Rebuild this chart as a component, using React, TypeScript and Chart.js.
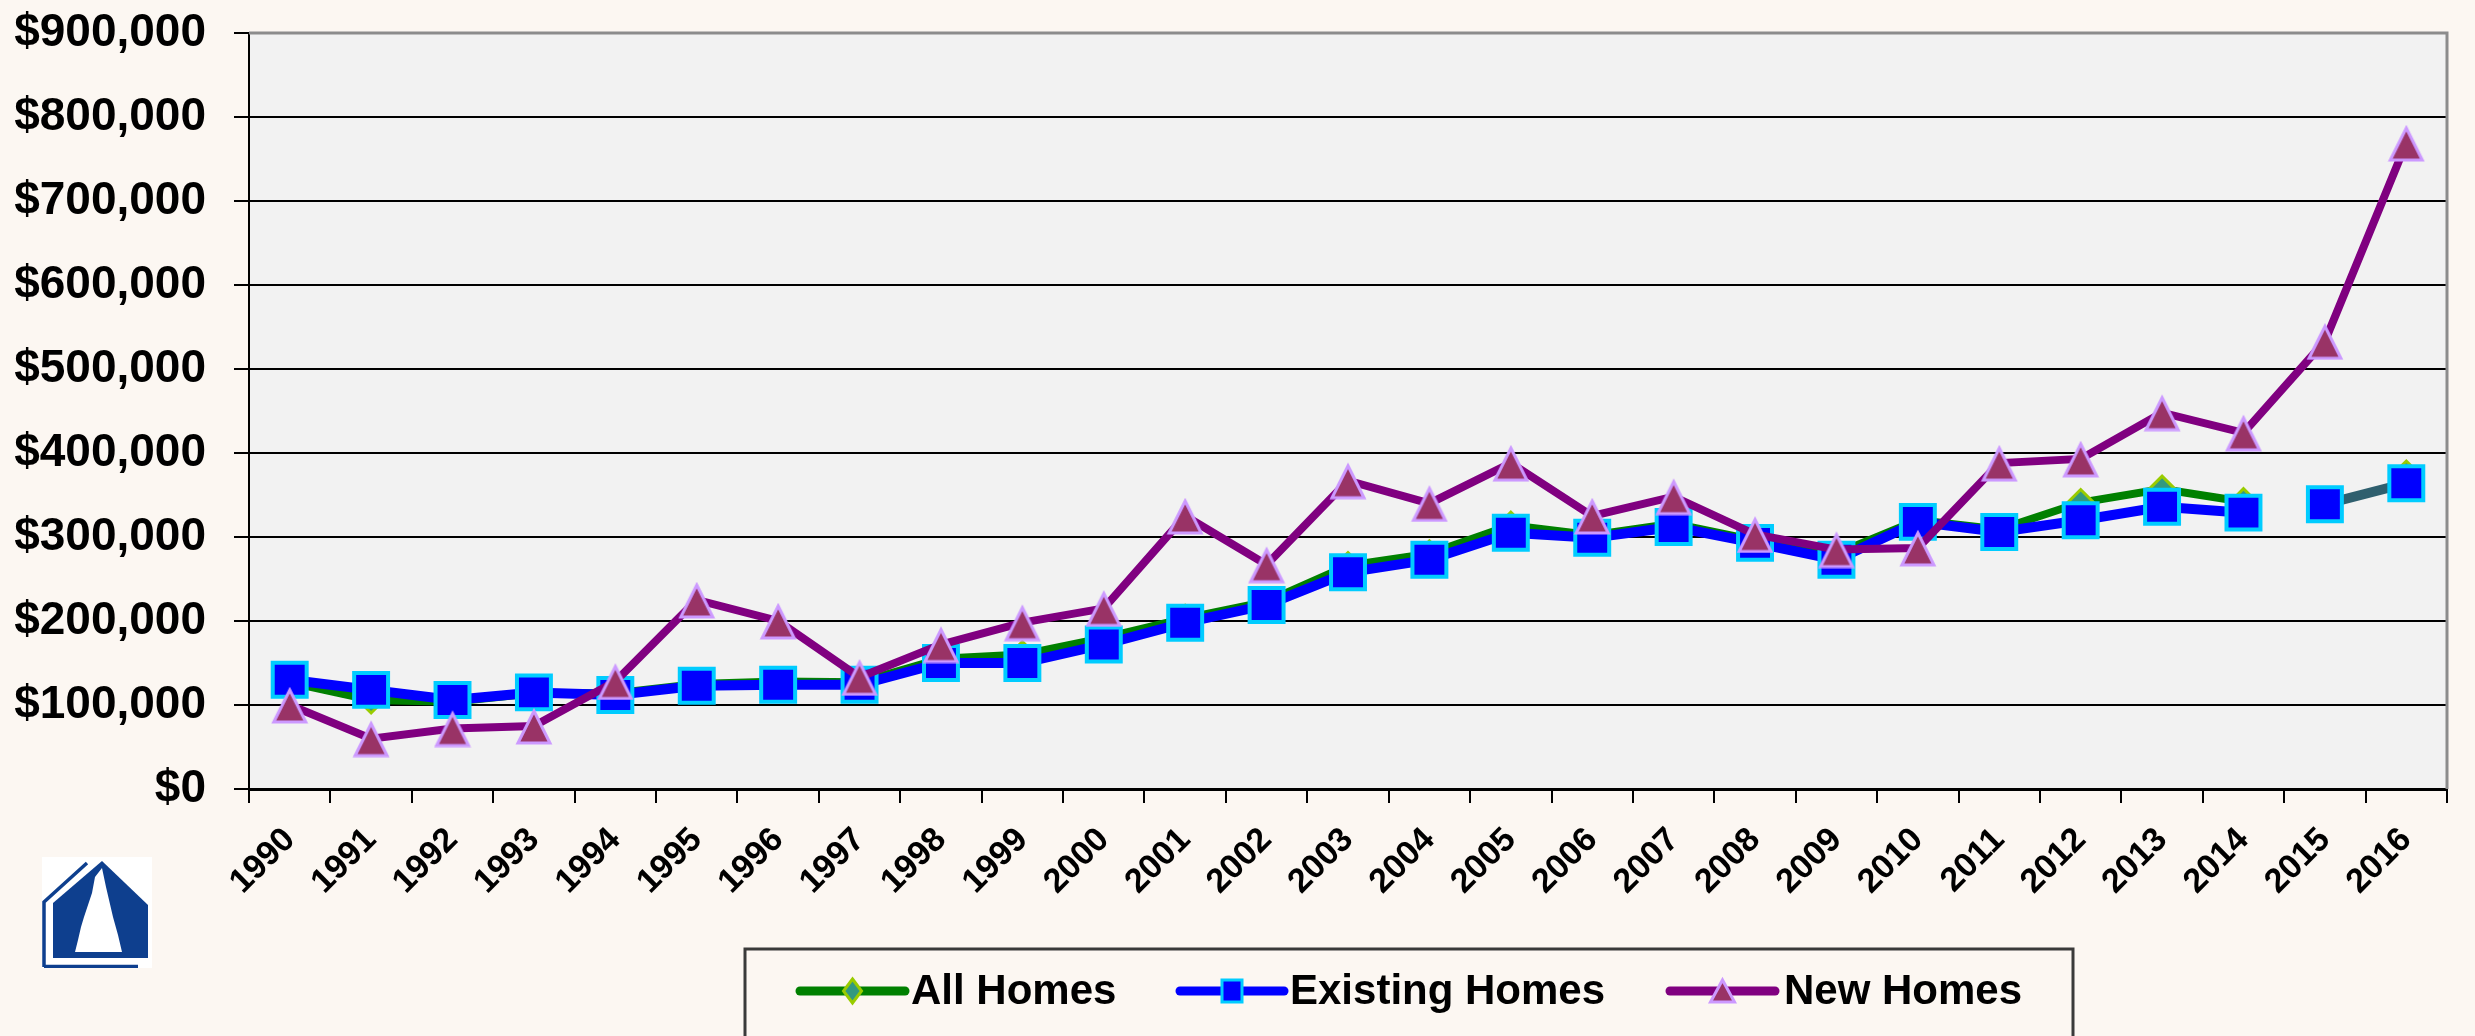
import React, { useEffect, useRef } from 'react';
import { Chart, registerables } from 'chart.js';

Chart.register(...registerables);

// ---------------- data ----------------
const years = [
  '1990', '1991', '1992', '1993', '1994', '1995', '1996', '1997', '1998', '1999',
  '2000', '2001', '2002', '2003', '2004', '2005', '2006', '2007', '2008', '2009',
  '2010', '2011', '2012', '2013', '2014', '2015', '2016',
];

const allHomes: (number | null)[] = [
  127000, 106000, 104000, 114000, 114000, 125000, 128000, 127000, 155000, 160000,
  180000, 203000, 223000, 266000, 280000, 314000, 302000, 316000, 296000, 280000,
  320000, 309000, 341000, 357000, 342000, null, 375000,
];

const existingHomes = [
  130000, 118000, 106000, 115000, 112000, 123000, 124000, 124000, 150000, 150000,
  172000, 198000, 219000, 258000, 273000, 305000, 299000, 312000, 293000, 273000,
  318000, 306000, 320000, 336000, 329000, 339000, 364000,
];

const newHomes = [
  100000, 60000, 72000, 75000, 128000, 225000, 200000, 133000, 172000, 198000,
  215000, 325000, 267000, 367000, 340000, 388000, 325000, 348000, 303000, 285000,
  287000, 388000, 393000, 448000, 424000, 533000, 769000,
];

const seriesNames = ['All Homes', 'Existing Homes', 'New Homes'];
const yMin = 0;
const yMax = 900000;
const yStep = 100000;
// the Existing Homes line is broken after this year
const existingBreakAfter = '2014';

// ---------------- styling ----------------
const FONT = '"Liberation Sans", Arial, Helvetica, sans-serif';
const PAGE_BG = '#FCF7F2';
const PLOT_BG = '#F2F2F2';

const COLORS = {
  all: { line: '#008000', fill: '#339980', border: '#99CC00' },
  existing: { line: '#0000FF', fill: '#0000FF', border: '#00CCFF', tail: '#2F5F6E' },
  fresh: { line: '#800080', fill: '#993366', border: '#CC99FF' },
};

function drawDiamond(ctx: CanvasRenderingContext2D, x: number, y: number, w: number, h: number) {
  ctx.beginPath();
  ctx.moveTo(x, y - h / 2);
  ctx.lineTo(x + w / 2, y);
  ctx.lineTo(x, y + h / 2);
  ctx.lineTo(x - w / 2, y);
  ctx.closePath();
}
function drawTri(ctx: CanvasRenderingContext2D, x: number, y: number, w: number, h: number) {
  ctx.beginPath();
  ctx.moveTo(x, y - h / 2);
  ctx.lineTo(x + w / 2, y + h / 2);
  ctx.lineTo(x - w / 2, y + h / 2);
  ctx.closePath();
}

function makeTriangleMarker(): HTMLCanvasElement {
  const c = document.createElement('canvas');
  c.width = 38;
  c.height = 38;
  const ctx = c.getContext('2d')!;
  ctx.fillStyle = COLORS.fresh.fill;
  ctx.strokeStyle = COLORS.fresh.border;
  ctx.lineWidth = 3;
  ctx.lineJoin = 'miter';
  drawTri(ctx, 19, 20, 32, 32);
  ctx.fill();
  ctx.stroke();
  return c;
}

const backgroundPlugin = {
  id: 'plotBg',
  beforeDraw(chart: any) {
    const { ctx, chartArea } = chart;
    ctx.save();
    ctx.fillStyle = PAGE_BG;
    ctx.fillRect(0, 0, chart.width, chart.height);
    ctx.fillStyle = PLOT_BG;
    ctx.fillRect(chartArea.left, chartArea.top, chartArea.right - chartArea.left, chartArea.bottom - chartArea.top);
    ctx.restore();
  },
  beforeDatasetsDraw(chart: any) {
    const { ctx, chartArea } = chart;
    ctx.save();
    ctx.strokeStyle = '#8C8C8C';
    ctx.lineWidth = 3;
    ctx.beginPath();
    ctx.moveTo(chartArea.left, chartArea.top);
    ctx.lineTo(chartArea.right, chartArea.top);
    ctx.lineTo(chartArea.right, chartArea.bottom);
    ctx.stroke();
    ctx.restore();
  },
};

const legendPlugin = {
  id: 'boxLegend',
  afterDraw(chart: any) {
    const ctx: CanvasRenderingContext2D = chart.ctx;
    ctx.save();
    ctx.strokeStyle = '#3A3A3A';
    ctx.lineWidth = 3;
    ctx.strokeRect(745, 949, 1328, 160);

    const cy = 991;
    const items = [
      { x0: 800, x1: 905, tx: 911, c: COLORS.all, kind: 'diamond' },
      { x0: 1180, x1: 1284, tx: 1290, c: COLORS.existing, kind: 'square' },
      { x0: 1670, x1: 1775, tx: 1784, c: COLORS.fresh, kind: 'tri' },
    ];
    items.forEach((it, i) => {
      ctx.strokeStyle = it.c.line;
      ctx.lineWidth = 9;
      ctx.lineCap = 'round';
      ctx.beginPath();
      ctx.moveTo(it.x0, cy);
      ctx.lineTo(it.x1, cy);
      ctx.stroke();
      const mx = (it.x0 + it.x1) / 2;
      ctx.fillStyle = it.c.fill;
      ctx.strokeStyle = it.c.border;
      ctx.lineWidth = 3;
      if (it.kind === 'diamond') drawDiamond(ctx, mx, cy, 18, 24);
      else if (it.kind === 'square') {
        ctx.beginPath();
        ctx.rect(mx - 10, cy - 11, 20, 22);
      } else drawTri(ctx, mx, cy, 24, 22);
      ctx.fill();
      ctx.stroke();

      ctx.fillStyle = '#000';
      ctx.font = `bold 42px ${FONT}`;
      ctx.textAlign = 'left';
      ctx.textBaseline = 'middle';
      ctx.fillText(seriesNames[i], it.tx, cy + 1);
    });
    ctx.restore();
  },
};

function Logo() {
  return (
    <svg
      width={110}
      height={111}
      viewBox="0 0 110 111"
      style={{ position: 'absolute', left: 42, top: 857 }}
    >
      <rect x={0} y={0} width={110} height={111} fill="#FFFFFF" />
      <polyline points="2,110 2,45 45,6" fill="none" stroke="#0E3F8E" strokeWidth={3.5} />
      <line x1={2} y1={109.5} x2={96} y2={109.5} stroke="#0E3F8E" strokeWidth={3.5} />
      <polygon points="60,4 106,48 106,101 11,101 11,46" fill="#0E3F8E" />
      <polygon
        points="60,11 64,30 71,60 76,78 80,95 33,95 36,83 39,70 42,60 47,45 50,36 53,20"
        fill="#FFFFFF"
      />
    </svg>
  );
}

export default function App() {
  const canvasRef = useRef<HTMLCanvasElement | null>(null);

  useEffect(() => {
    const canvas = canvasRef.current;
    if (!canvas) return;
    const breakIdx = years.indexOf(existingBreakAfter);
    const triMarker = makeTriangleMarker();

    const chart = new Chart(canvas, {
      type: 'line',
      data: {
        labels: years,
        datasets: [
          {
            label: seriesNames[0],
            data: allHomes,
            order: 3,
            borderColor: COLORS.all.line,
            borderWidth: 8,
            pointStyle: 'rectRot',
            pointRadius: 13,
            pointBackgroundColor: COLORS.all.fill,
            pointBorderColor: COLORS.all.border,
            pointBorderWidth: 3,
            tension: 0,
            spanGaps: false,
          },
          {
            label: seriesNames[1],
            data: existingHomes,
            order: 2,
            borderColor: COLORS.existing.line,
            borderWidth: 10,
            pointStyle: 'rect',
            pointRadius: 24,
            pointBackgroundColor: COLORS.existing.fill,
            pointBorderColor: COLORS.existing.border,
            pointBorderWidth: 4,
            tension: 0,
            segment: {
              borderColor: (c: any) =>
                c.p0DataIndex === breakIdx
                  ? 'rgba(0,0,0,0)'
                  : c.p0DataIndex === breakIdx + 1
                  ? COLORS.existing.tail
                  : undefined,
            },
          },
          {
            label: seriesNames[2],
            data: newHomes,
            order: 1,
            borderColor: COLORS.fresh.line,
            borderWidth: 8,
            pointStyle: triMarker,
            pointRadius: 19,
            pointBackgroundColor: COLORS.fresh.fill,
            pointBorderColor: COLORS.fresh.border,
            pointBorderWidth: 3,
            tension: 0,
          },
        ],
      },
      options: {
        responsive: false,
        animation: false,
        devicePixelRatio: 1,
        events: [],
        layout: { padding: { left: 0, right: 23, top: 0, bottom: 0 } },
        plugins: {
          legend: { display: false },
          tooltip: { enabled: false },
        },
        scales: {
          x: {
            offset: true,
            grid: {
              offset: true,
              drawOnChartArea: false,
              drawTicks: true,
              tickLength: 14,
              color: '#000',
              lineWidth: 2,
            },
            border: { color: '#000', width: 3 },
            ticks: {
              autoSkip: false,
              maxRotation: 45,
              minRotation: 45,
              padding: 17,
              color: '#000',
              font: { family: FONT, size: 34, weight: 'bold' },
            },
            afterFit: (s: any) => {
              s.height = 1036 - 789;
            },
          },
          y: {
            min: yMin,
            max: yMax,
            grid: { color: '#000', lineWidth: 2, tickLength: 15 },
            border: { color: '#000', width: 2 },
            ticks: {
              stepSize: yStep,
              padding: 28,
              color: '#000',
              font: { family: FONT, size: 46, weight: 'bold' },
              callback: (v: any) => '$' + Number(v).toLocaleString('en-US'),
            },
            afterFit: (s: any) => {
              s.width = 249;
              s.paddingTop = 33;
            },
          },
        },
      } as any,
      plugins: [backgroundPlugin, legendPlugin],
    });

    return () => chart.destroy();
  }, []);

  return (
    <div
      style={{
        position: 'absolute',
        left: 0,
        top: 0,
        width: 2475,
        height: 1036,
        background: PAGE_BG,
        overflow: 'hidden',
      }}
    >
      <canvas ref={canvasRef} width={2475} height={1036} style={{ display: 'block' }} />
      <Logo />
    </div>
  );
}
